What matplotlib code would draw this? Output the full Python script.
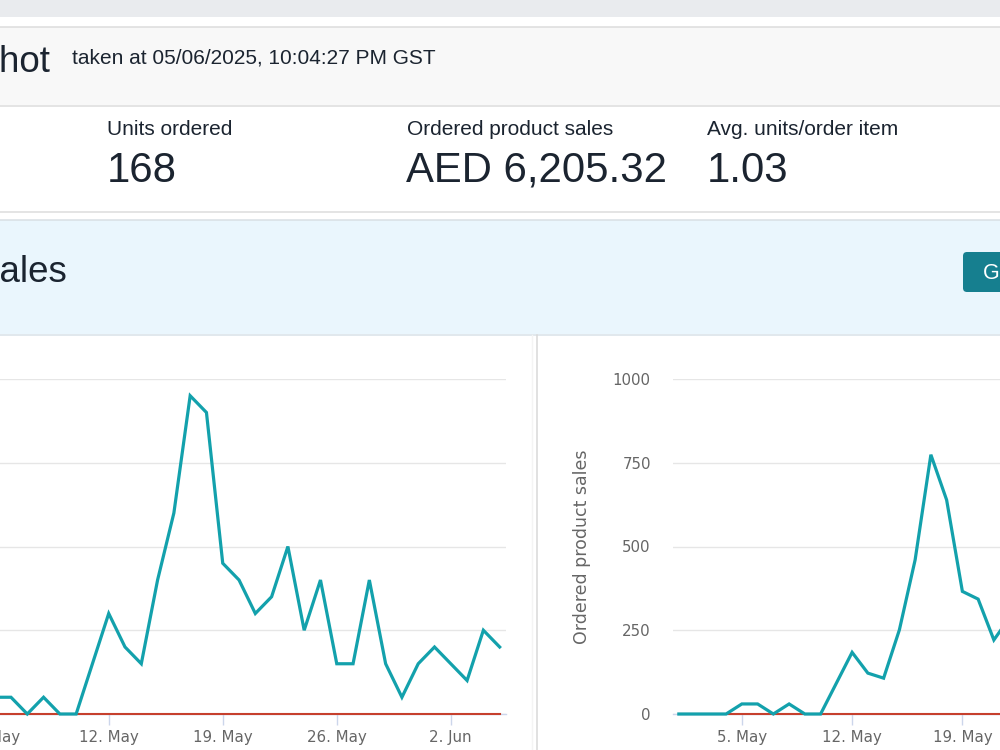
import matplotlib
matplotlib.use("Agg")
import matplotlib.pyplot as plt
import matplotlib.dates as mdates
from matplotlib.patches import Rectangle, FancyBboxPatch
from matplotlib.ticker import FuncFormatter
import pandas as pd

# --- data ---
days = pd.date_range("2025-05-01", "2025-06-05", freq="D")
units_ordered = [0, 0, 0, 0, 1, 1, 0, 1, 0, 0, 3, 6, 4, 3, 8, 12, 19, 18, 9, 8, 6,
                 7, 10, 5, 8, 3, 3, 8, 3, 1, 3, 4, 3, 2, 5, 4]
# only the part of the sales chart that is visible (1 - 22 May)
sales_days = days[:22]
ordered_sales = [0, 0, 0, 0, 30, 30, 0, 30, 0, 0, 92, 184, 122, 107, 251, 460,
                 774, 639, 366, 343, 221, 288]
comparison = [0] * len(days)

units_ticks = [0, 5, 10, 15, 20]
sales_ticks = [0, 250, 500, 750, 1000]

snapshot_title = "Snapshot"
snapshot_time = "taken at 05/06/2025, 10:04:27 PM GST"
metric_names = ["Units ordered", "Ordered product sales", "Avg. units/order item"]
metric_values = ["168", "AED 6,205.32", "1.03"]

W, H = 1000, 750
TEAL = "#13a1ac"
RED = "#c6402d"
DARK = "#1b2430"
UI = ["Liberation Sans", "DejaVu Sans"]

fig = plt.figure(figsize=(10, 7.5), dpi=100)
fig.patch.set_facecolor("white")

# background axes in pixel coordinates
bg = fig.add_axes([0, 0, 1, 1])
bg.set_xlim(0, W)
bg.set_ylim(H, 0)
bg.axis("off")

bg.add_patch(Rectangle((0, 0), W, 17, color="#e9ebee", lw=0))
bg.add_patch(Rectangle((0, 26.5), W, 78.5, color="#f8f8f8", lw=0))
bg.add_patch(Rectangle((0, 220), W, 114, color="#eaf6fd", lw=0))
for y, c in [(26.5, "#dcdcdc"), (105.5, "#dddddd"), (211.5, "#dddddd"),
             (219.5, "#d8dfe4"), (334.5, "#d8e2e8")]:
    bg.plot([0, W], [y, y], color=c, lw=1.1)
bg.plot([531.5, 531.5], [335, H], color="#f4f4f4", lw=1)
bg.plot([536.5, 536.5], [335, H], color="#d9d9d9", lw=1.1)

bg.text(50, 71.5, snapshot_title, fontsize=26.5, color=DARK, family=UI,
        ha="right", va="baseline")
bg.text(72, 64, snapshot_time, fontsize=15, color=DARK, family=UI, va="baseline")
for i, (name, val) in enumerate(zip(metric_names, metric_values)):
    x = 107 + 300 * i
    bg.text(x, 135, name, fontsize=15, color=DARK, family=UI, va="baseline")
    bg.text(x - 0.5, 181.5, val, fontsize=30.2, color=DARK, family=UI, va="baseline")

bg.text(67, 282.5, "Sales", fontsize=26.5, color=DARK, family=UI,
        ha="right", va="baseline")
bg.add_patch(FancyBboxPatch((963, 252), 60, 40, boxstyle="round,pad=0,rounding_size=4",
                            color="#167f8f", lw=0))
bg.text(983, 279, "G", fontsize=15.5, color="white", family=UI, va="baseline")


def px_axes(x0, y0, x1, y1):
    return fig.add_axes([x0 / W, 1 - y1 / H, (x1 - x0) / W, (y1 - y0) / H])


def style_chart(ax, ticks, ylabel):
    ax.set_facecolor("none")
    pad = pd.Timedelta(hours=8.9)
    ax.set_xlim(days[0] - pad, days[-1] + pad)
    ax.set_ylim(ticks[0], ticks[-1])
    ax.set_yticks(ticks)
    ax.grid(axis="y", color="#e6e6e6", lw=1)
    ax.set_axisbelow(True)
    for s in ["top", "right", "left"]:
        ax.spines[s].set_visible(False)
    ax.spines["bottom"].set_color("#ccd6eb")
    ax.spines["bottom"].set_linewidth(1)
    ax.xaxis.set_major_locator(mdates.WeekdayLocator(byweekday=mdates.MO))
    ax.xaxis.set_major_formatter(FuncFormatter(
        lambda v, p: f"{mdates.num2date(v).day}. {mdates.num2date(v):%b}"))
    ax.tick_params(axis="x", length=8, color="#ccd6eb", width=1, pad=3.5,
                   labelsize=10.8, labelcolor="#666666")
    ax.tick_params(axis="y", length=0, pad=16, labelsize=10.8, labelcolor="#666666")
    ax.set_ylabel(ylabel, fontsize=12.5, color="#666666")
    ax.yaxis.set_label_coords(-0.145, 0.5)


# left chart: units ordered (left part cropped by the screenshot)
ax1 = px_axes(-76.5, 379, 505.7, 714)
style_chart(ax1, units_ticks, "Units ordered")
ax1.plot(days, comparison, color=RED, lw=1.5, zorder=3, clip_on=False)
ax1.plot(days, units_ordered, color=TEAL, lw=2.3, zorder=4, clip_on=False,
         solid_joinstyle="miter")

# right chart: ordered product sales (right part cropped)
ax2 = px_axes(673, 379, 1236, 714)
style_chart(ax2, sales_ticks, "Ordered product sales")
ax2.plot(days, comparison, color=RED, lw=1.5, zorder=3, clip_on=False)
ax2.plot(sales_days, ordered_sales, color=TEAL, lw=2.3, zorder=4, clip_on=False,
         solid_joinstyle="miter")

fig.savefig("out.png", dpi=100)
